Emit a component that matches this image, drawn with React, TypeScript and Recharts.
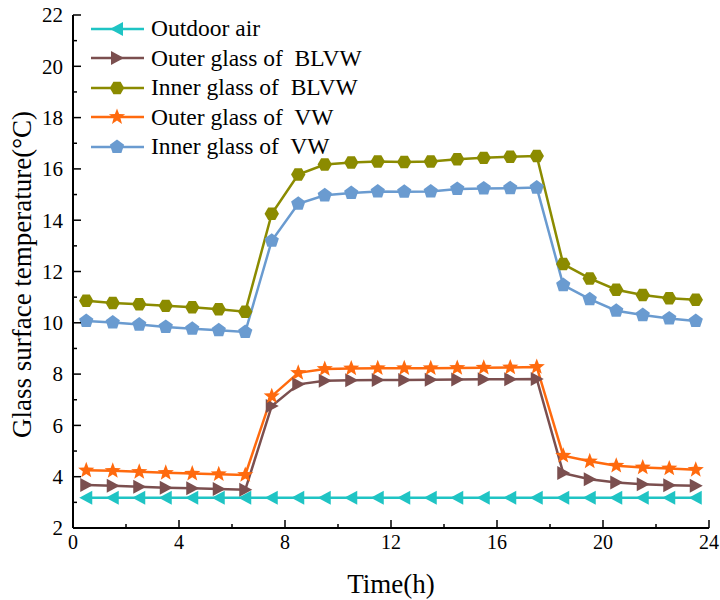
import React from 'react';
import { LineChart, Line, XAxis, YAxis, Legend } from 'recharts';

const hours = [0.5, 1.5, 2.5, 3.5, 4.5, 5.5, 6.5, 7.5, 8.5, 9.5, 10.5, 11.5, 12.5, 13.5, 14.5, 15.5, 16.5, 17.5, 18.5, 19.5, 20.5, 21.5, 22.5, 23.5];

const outdoorAir = [3.18, 3.18, 3.18, 3.18, 3.18, 3.18, 3.18, 3.18, 3.18, 3.18, 3.18, 3.18, 3.18, 3.18, 3.18, 3.18, 3.18, 3.18, 3.18, 3.18, 3.18, 3.18, 3.18, 3.18];
const outerBLVW = [3.68, 3.65, 3.61, 3.57, 3.55, 3.52, 3.49, 6.76, 7.6, 7.74, 7.76, 7.77, 7.77, 7.78, 7.79, 7.8, 7.8, 7.81, 4.14, 3.9, 3.77, 3.71, 3.67, 3.65];
const innerBLVW = [10.86, 10.77, 10.72, 10.66, 10.61, 10.53, 10.43, 14.25, 15.78, 16.17, 16.25, 16.29, 16.27, 16.29, 16.38, 16.43, 16.47, 16.5, 12.29, 11.73, 11.29, 11.08, 10.96, 10.9];
const outerVW = [4.25, 4.23, 4.19, 4.15, 4.12, 4.1, 4.07, 7.14, 8.05, 8.2, 8.22, 8.23, 8.23, 8.23, 8.24, 8.25, 8.26, 8.28, 4.82, 4.6, 4.43, 4.36, 4.32, 4.27];
const innerVW = [10.07, 10.01, 9.93, 9.84, 9.77, 9.71, 9.64, 13.2, 14.64, 14.97, 15.06, 15.12, 15.11, 15.12, 15.22, 15.24, 15.25, 15.27, 11.47, 10.92, 10.47, 10.3, 10.17, 10.07];

const xTicks = [0, 2, 4, 6, 8, 10, 12, 14, 16, 18, 20, 22, 24];
const yTicks = [2, 3, 4, 5, 6, 7, 8, 9, 10, 11, 12, 13, 14, 15, 16, 17, 18, 19, 20, 21, 22];

const seriesList = [
  { key: 'outdoor', name: 'Outdoor air', values: outdoorAir, color: '#1FC4C4', shape: 'triLeft' },
  { key: 'outerBLVW', name: 'Outer glass of  BLVW', values: outerBLVW, color: '#7B4F4F', shape: 'triRight' },
  { key: 'innerBLVW', name: 'Inner glass of  BLVW', values: innerBLVW, color: '#8B8B00', shape: 'hexagon' },
  { key: 'outerVW', name: 'Outer glass of  VW', values: outerVW, color: '#FF6A0E', shape: 'star' },
  { key: 'innerVW', name: 'Inner glass of  VW', values: innerVW, color: '#6A9BD0', shape: 'pentagon' },
];

const data = hours.map((t, i) => {
  const row: Record<string, number> = { t };
  seriesList.forEach((s) => {
    row[s.key] = s.values[i];
  });
  return row;
});

const FONT = '"Liberation Serif", "Times New Roman", serif';

const polygon = (cx: number, cy: number, n: number, r: number, rot: number) => {
  const pts: string[] = [];
  for (let k = 0; k < n; k++) {
    const a = rot + (k * 2 * Math.PI) / n;
    pts.push(`${cx + r * Math.cos(a)},${cy + r * Math.sin(a)}`);
  }
  return pts.join(' ');
};

const starPoints = (cx: number, cy: number, ro: number, ri: number) => {
  const pts: string[] = [];
  for (let k = 0; k < 10; k++) {
    const r = k % 2 === 0 ? ro : ri;
    const a = -Math.PI / 2 + (k * Math.PI) / 5;
    pts.push(`${cx + r * Math.cos(a)},${cy + r * Math.sin(a)}`);
  }
  return pts.join(' ');
};

const Marker = ({ cx, cy, shape, color }: { cx: number; cy: number; shape: string; color: string }) => {
  let pts = '';
  if (shape === 'triLeft') pts = `${cx - 7},${cy} ${cx + 6},${cy - 7} ${cx + 6},${cy + 7}`;
  else if (shape === 'triRight') pts = `${cx + 7},${cy} ${cx - 6},${cy - 7} ${cx - 6},${cy + 7}`;
  else if (shape === 'hexagon') pts = polygon(cx, cy, 6, 7.2, 0);
  else if (shape === 'pentagon') pts = polygon(cx, cy, 5, 7.5, -Math.PI / 2);
  else pts = starPoints(cx, cy, 8.5, 3.6);
  return <polygon points={pts} fill={color} stroke="none" />;
};

const renderXTick = (props: any) => {
  const { x, y, payload } = props;
  const major = payload.value % 4 === 0;
  return (
    <g>
      <line x1={x} x2={x} y1={y} y2={y - (major ? 8 : 4)} stroke="#000" strokeWidth={1.5} />
      {major && (
        <text x={x} y={y + 21} textAnchor="middle" fontFamily={FONT} fontSize={20} fill="#000">
          {payload.value}
        </text>
      )}
    </g>
  );
};

const renderYTick = (props: any) => {
  const { x, y, payload } = props;
  const major = payload.value % 2 === 0;
  return (
    <g>
      <line x1={x} x2={x + (major ? 8 : 4)} y1={y} y2={y} stroke="#000" strokeWidth={1.5} />
      {major && (
        <text x={x - 10} y={y} dy="0.35em" textAnchor="end" fontFamily={FONT} fontSize={21} fill="#000">
          {payload.value}
        </text>
      )}
    </g>
  );
};

const renderXTitle = (props: any) => {
  const { x, y, width } = props.viewBox;
  return (
    <text x={x + width / 2} y={y + 65} textAnchor="middle" fontFamily={FONT} fontSize={27} fill="#000">
      Time(h)
    </text>
  );
};

const renderYTitle = (props: any) => {
  const { y, height } = props.viewBox;
  const cy = y + height / 2 + 3;
  return (
    <text
      x={31}
      y={cy}
      transform={`rotate(-90, 31, ${cy})`}
      textAnchor="middle"
      fontFamily={FONT}
      fontSize={27}
      fill="#000"
    >
      Glass surface temperature(°C)
    </text>
  );
};

const renderLegend = () => (
  <div style={{ fontFamily: FONT, fontSize: 23.5, color: '#000' }}>
    {seriesList.map((s) => (
      <div key={s.key} style={{ display: 'flex', alignItems: 'center', height: 29.5 }}>
        <svg width={56} height={20} style={{ display: 'block' }}>
          <line x1={2} x2={55} y1={10} y2={10} stroke={s.color} strokeWidth={2.5} />
          <Marker cx={28} cy={10} shape={s.shape} color={s.color} />
        </svg>
        <span style={{ marginLeft: 6, whiteSpace: 'pre', lineHeight: 1 }}>{s.name}</span>
      </div>
    ))}
  </div>
);

export default function App() {
  return (
    <div style={{ position: 'absolute', left: 0, top: 0, background: '#fff' }}>
      <LineChart width={720} height={600} data={data} margin={{ top: 15, right: 11, bottom: 0, left: 0 }}>
        <XAxis
          dataKey="t"
          type="number"
          domain={[0, 24]}
          ticks={xTicks}
          interval={0}
          height={72}
          tickSize={0}
          tickMargin={0}
          tickLine={false}
          axisLine={{ stroke: '#000', strokeWidth: 2 }}
          tick={renderXTick}
          label={{ content: renderXTitle }}
        />
        <XAxis
          xAxisId="top"
          orientation="top"
          dataKey="t"
          type="number"
          domain={[0, 24]}
          height={0}
          tick={false}
          tickLine={false}
          axisLine={{ stroke: '#000', strokeWidth: 2 }}
        />
        <YAxis
          type="number"
          domain={[2, 22]}
          ticks={yTicks}
          interval={0}
          width={73}
          tickSize={0}
          tickMargin={0}
          tickLine={false}
          axisLine={{ stroke: '#000', strokeWidth: 2 }}
          tick={renderYTick}
          label={{ content: renderYTitle }}
        />
        <YAxis
          yAxisId="right"
          orientation="right"
          type="number"
          domain={[0, 1]}
          width={0}
          tick={false}
          tickLine={false}
          axisLine={{ stroke: '#000', strokeWidth: 2 }}
        />
        <Legend
          layout="vertical"
          align="center"
          verticalAlign="middle"
          content={renderLegend}
          wrapperStyle={{ left: 89, top: 14, width: 'auto', height: 'auto' }}
        />
        {seriesList.map((s) => (
          <Line
            key={s.key}
            dataKey={s.key}
            name={s.name}
            type="linear"
            stroke={s.color}
            strokeWidth={2.5}
            isAnimationActive={false}
            activeDot={false}
            dot={(p: any) => <Marker key={`${s.key}-${p.index}`} cx={p.cx} cy={p.cy} shape={s.shape} color={s.color} />}
          />
        ))}
      </LineChart>
    </div>
  );
}
